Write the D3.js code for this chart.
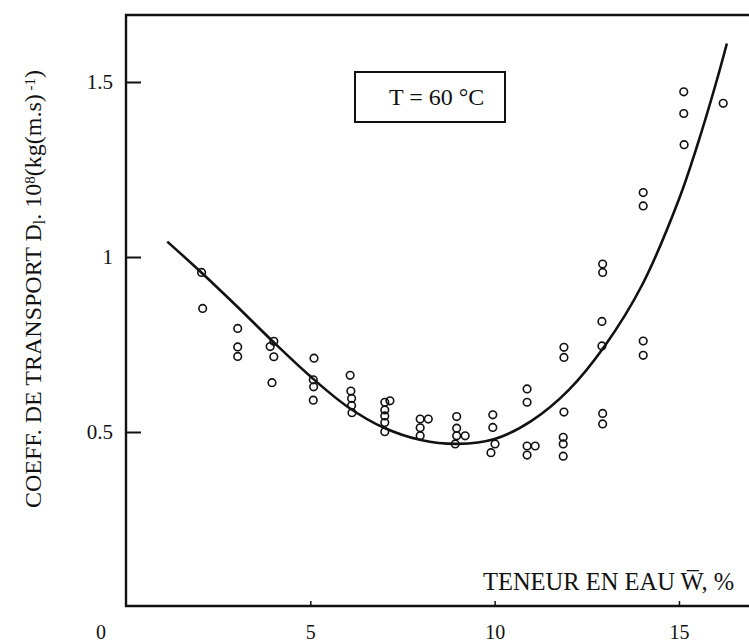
<!DOCTYPE html>
<html>
<head>
<meta charset="utf-8">
<script src="https://cdn.jsdelivr.net/npm/d3@7"></script>
<style>
  html, body { margin: 0; padding: 0; background: #fff; }
  svg { display: block; }
  text { font-family: "Liberation Serif", "Times New Roman", "DejaVu Serif", serif; fill: #111; }
</style>
</head>
<body>
<svg id="chart" width="749" height="643"></svg>
<script>
// ---- data ----
const pointW = [2.05, 2.08,
  3.03, 3.03, 3.03,
  4.01, 3.91, 4.01, 3.96,
  5.10, 5.08, 5.09, 5.08,
  6.08, 6.10, 6.12, 6.12, 6.13,
  7.02, 7.16, 7.02, 7.02, 7.02, 7.02,
  7.98, 8.20, 7.98, 7.98,
  8.97, 8.97, 8.97, 9.20, 8.93,
  9.95, 9.95, 10.01, 9.90,
  10.88, 10.88, 10.88, 11.10, 10.88,
  11.88, 11.88, 11.88, 11.86, 11.86, 11.86,
  12.93, 12.93, 12.91, 12.91, 12.93, 12.93,
  14.03, 14.03, 14.03, 14.03,
  15.13, 15.13, 15.14,
  16.20];
const pointD = [0.956, 0.853,
  0.796, 0.743, 0.716,
  0.759, 0.744, 0.715, 0.641,
  0.711, 0.649, 0.629, 0.591,
  0.662, 0.617, 0.596, 0.576, 0.555,
  0.585, 0.589, 0.563, 0.546, 0.527, 0.501,
  0.537, 0.537, 0.512, 0.489,
  0.544, 0.511, 0.489, 0.489, 0.466,
  0.549, 0.513, 0.466, 0.441,
  0.623, 0.585, 0.460, 0.460, 0.434,
  0.742, 0.713, 0.557, 0.485, 0.466, 0.431,
  0.980, 0.956, 0.816, 0.746, 0.553, 0.523,
  1.184, 1.146, 0.760, 0.719,
  1.472, 1.410, 1.321,
  1.439];

// fitted curve, read at whole W values from the reference
const curveW = [1.12, 2, 3, 4, 5, 6, 7, 8, 9, 10, 11, 12, 13, 14, 15, 15.5, 16, 16.3];
const curveD = [1.044, 0.960, 0.860, 0.757, 0.659, 0.573, 0.512, 0.477, 0.466, 0.480, 0.532,
  0.619, 0.748, 0.920, 1.165, 1.320, 1.495, 1.610];

const xTicks = [5, 10, 15];
const yTicks = [0.5, 1, 1.5];
const yTickLabels = ["0.5", "1", "1.5"];
const originLabel = "0";
const legendText = "T = 60 °C";

// ---- layout ----
const svg = d3.select("#chart");
const x = d3.scaleLinear().domain([0, 16.9]).range([126, 749]);
const y = d3.scaleLinear().domain([0, 607 / 350]).range([607, 0]);
const frameTop = 15, frameBottom = 606, frameLeft = 126, frameRight = 749;

// frame (left, top, bottom)
svg.append("path")
  .attr("d", `M${frameRight},${frameTop}H${frameLeft}V${frameBottom}H${frameRight}`)
  .attr("fill", "none").attr("stroke", "#111").attr("stroke-width", 2.4);

// y axis
const yAxis = d3.axisLeft(y).tickValues(yTicks).tickSize(-15).tickSizeOuter(0).tickPadding(13)
  .tickFormat((d, i) => yTickLabels[i]);
const gy = svg.append("g").attr("transform", `translate(${frameLeft},0)`).call(yAxis);
gy.select(".domain").remove();
gy.selectAll(".tick line").attr("stroke", "#111").attr("stroke-width", 2);
gy.selectAll(".tick text").style("font-size", "21px").style("font-family", '"Liberation Serif", serif').attr("fill", "#111");

// x axis
const xAxis = d3.axisBottom(x).tickValues(xTicks).tickSize(-5).tickSizeOuter(0).tickPadding(19)
  .tickFormat(d3.format("d"));
const gx = svg.append("g").attr("transform", `translate(0,${frameBottom})`).call(xAxis);
gx.select(".domain").remove();
gx.selectAll(".tick line").attr("stroke", "#111").attr("stroke-width", 1.5);
gx.selectAll(".tick text").style("font-size", "20px").style("font-family", '"Liberation Serif", serif').attr("fill", "#111");

// origin label
svg.append("text").attr("x", 101).attr("y", 639).attr("text-anchor", "middle")
  .style("font-size", "20px").text(originLabel);

// x title
svg.append("text").attr("x", 483).attr("y", 590).style("font-size", "24.5px")
  .text("TENEUR EN EAU W\u0305, %");

// y title
const yt = svg.append("text")
  .attr("transform", "translate(41,289) rotate(-90)")
  .attr("text-anchor", "middle").style("font-size", "24px");
yt.append("tspan").text("COEFF. DE TRANSPORT D");
yt.append("tspan").attr("baseline-shift", "-25%").style("font-size", "16px").text("l");
yt.append("tspan").text(". 10");
yt.append("tspan").attr("baseline-shift", "40%").style("font-size", "15px").text("8");
yt.append("tspan").text("(kg(m.s)");
yt.append("tspan").attr("baseline-shift", "40%").style("font-size", "15px").text(" -1");
yt.append("tspan").text(")");

// legend box
svg.append("rect").attr("x", 355).attr("y", 72).attr("width", 150).attr("height", 50)
  .attr("fill", "none").attr("stroke", "#111").attr("stroke-width", 2);
svg.append("text").attr("x", 389).attr("y", 105).style("font-size", "24px").text(legendText);

// curve
const curvePts = curveW.map((w, i) => [w, curveD[i]]);
const line = d3.line().x(d => x(d[0])).y(d => y(d[1])).curve(d3.curveCatmullRom.alpha(0.5));
svg.append("path").datum(curvePts).attr("d", line)
  .attr("fill", "none").attr("stroke", "#111").attr("stroke-width", 2.6);

// points
const pts = pointW.map((w, i) => [w, pointD[i]]);
svg.append("g").selectAll("circle").data(pts).join("circle")
  .attr("cx", d => x(d[0])).attr("cy", d => y(d[1])).attr("r", 3.8)
  .attr("fill", "none").attr("stroke", "#111").attr("stroke-width", 1.6);
</script>
</body>
</html>
